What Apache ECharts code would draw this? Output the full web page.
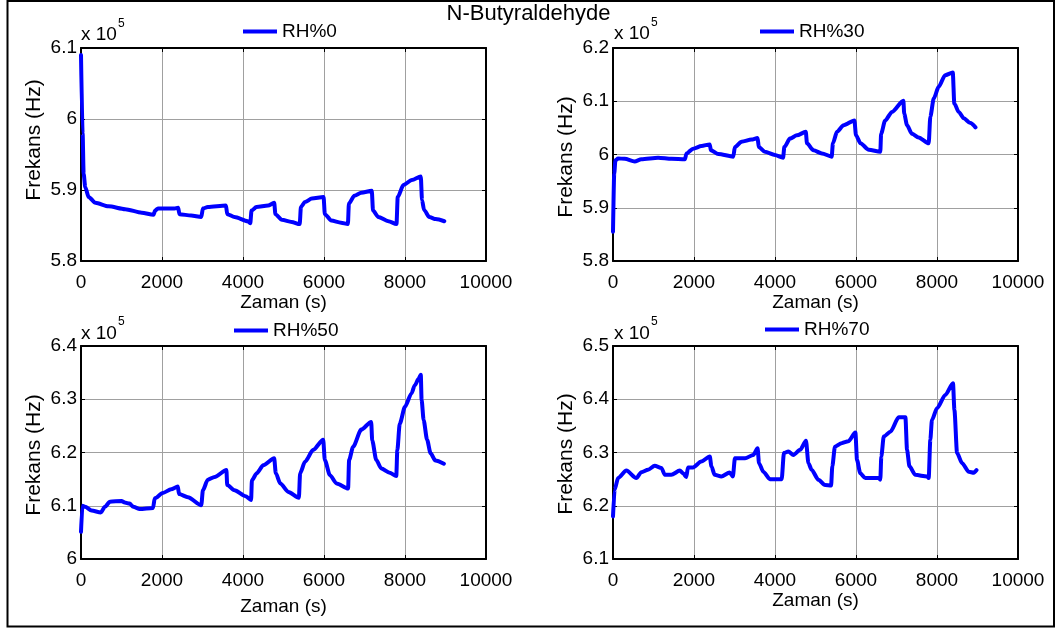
<!DOCTYPE html>
<html>
<head>
<meta charset="utf-8">
<script src="https://cdn.jsdelivr.net/npm/echarts@6/dist/echarts.min.js"></script>
<style>
  html, body { margin: 0; padding: 0; background: #ffffff; }
  #chart { width: 1057px; height: 632px; }
</style>
</head>
<body>
<div id="chart"></div>
<script>
// Time (s) and frequency (Hz) samples for each relative-humidity run
const rh0Time = [0, 40, 65, 105, 190, 355, 680, 1090, 1500, 1790, 1830, 1900, 2310, 2400, 2430, 2720, 2970, 3010, 3130, 3580, 3610, 3790, 4120, 4180, 4210, 4330, 4620, 4770, 4800, 4960, 5200, 5400, 5430, 5530, 5700, 5990, 6020, 6180, 6420, 6590, 6615, 6750, 6920, 7180, 7210, 7340, 7590, 7790, 7820, 7960, 8170, 8390, 8420, 8470, 8600, 8760, 8970];
const rh0Freq = [609000, 598000, 592300, 590400, 589000, 588200, 587700, 587300, 586800, 586500, 587100, 587400, 587400, 587500, 586600, 586400, 586200, 587400, 587600, 587800, 586600, 586200, 585600, 585300, 587100, 587600, 587800, 588200, 586600, 585800, 585500, 585200, 587600, 588300, 588800, 589000, 586600, 585700, 585400, 585200, 588100, 589200, 589600, 589900, 587100, 586200, 585600, 585200, 589000, 590700, 591400, 591900, 588600, 587200, 586200, 585900, 585600];

const rh30Time = [0, 30, 60, 125, 290, 535, 700, 1115, 1445, 1775, 1815, 1980, 2185, 2390, 2415, 2600, 2970, 3010, 3175, 3420, 3570, 3600, 3750, 4000, 4200, 4230, 4370, 4540, 4760, 4790, 4950, 5160, 5400, 5430, 5530, 5695, 5960, 6000, 6110, 6315, 6600, 6620, 6720, 6890, 7170, 7190, 7260, 7380, 7545, 7795, 7835, 7920, 8040, 8200, 8390, 8427, 8535, 8660, 8826, 8950];
const rh30Freq = [585500, 596400, 598900, 599250, 599200, 598700, 599100, 599400, 599200, 599100, 600200, 601100, 601600, 601900, 600800, 600100, 599600, 601400, 602400, 602800, 603100, 601400, 600500, 599900, 599400, 601400, 603000, 603600, 604250, 602100, 600800, 600200, 599600, 602100, 604250, 605500, 606400, 603600, 602100, 600900, 600500, 603900, 606400, 608000, 610100, 607700, 605500, 603900, 603200, 602100, 607100, 610500, 612700, 614900, 615400, 609600, 608000, 606800, 605900, 605100];

const rh50Time = [0, 35, 100, 260, 490, 590, 715, 1000, 1080, 1200, 1290, 1450, 1780, 1820, 2020, 2225, 2390, 2420, 2640, 2970, 3010, 3130, 3300, 3590, 3610, 3790, 4060, 4200, 4220, 4340, 4500, 4770, 4810, 4920, 5120, 5380, 5410, 5530, 5735, 5980, 6020, 6145, 6310, 6595, 6620, 6720, 6920, 7165, 7190, 7290, 7415, 7620, 7785, 7810, 7870, 8000, 8160, 8240, 8340, 8390, 8410, 8460, 8545, 8630, 8750, 8960];
const rh50Freq = [605100, 610000, 609800, 609100, 608750, 609800, 610750, 610900, 610600, 610400, 609800, 609400, 609600, 611400, 612400, 613100, 613600, 612200, 611600, 610100, 612900, 614900, 615400, 616700, 613900, 612900, 611800, 611100, 614800, 616100, 617600, 618900, 616100, 614200, 612600, 611500, 616100, 618250, 620500, 622400, 618600, 615750, 614200, 613250, 618600, 621100, 624300, 625750, 622300, 618600, 617000, 616200, 615600, 620400, 625400, 628600, 631100, 632600, 633900, 634600, 629900, 626100, 622400, 619900, 618500, 617900];

const rh70Time = [0, 40, 125, 330, 575, 700, 865, 1030, 1195, 1280, 1440, 1650, 1730, 1810, 1850, 1975, 2180, 2390, 2430, 2510, 2675, 2880, 2960, 3010, 3260, 3465, 3570, 3605, 3710, 3875, 4165, 4220, 4330, 4455, 4620, 4765, 4825, 4905, 5070, 5235, 5385, 5415, 5480, 5645, 5810, 5985, 6025, 6105, 6230, 6560, 6600, 6625, 6685, 6850, 7055, 7220, 7260, 7320, 7465, 7755, 7795, 7835, 7875, 8000, 8205, 8395, 8430, 8495, 8620, 8785, 8910, 8975];
const rh70Freq = [618000, 623000, 625200, 626600, 625200, 626300, 626750, 627500, 627100, 625800, 625800, 626600, 626100, 625400, 627200, 627200, 628300, 629250, 627400, 625800, 625500, 626250, 625500, 628900, 628900, 629550, 630800, 628000, 626400, 625000, 625000, 629900, 630200, 629550, 630500, 632200, 628000, 626750, 624900, 623900, 623800, 627400, 631100, 631750, 632100, 633750, 628600, 626100, 625200, 625200, 624900, 629250, 633000, 633900, 636600, 636600, 630500, 627400, 625800, 625500, 625200, 632400, 636100, 638300, 640800, 643000, 638000, 629900, 628000, 626400, 626200, 626700];

const seriesNames = ['RH%0', 'RH%30', 'RH%50', 'RH%70'];
const seriesTimes = [rh0Time, rh30Time, rh50Time, rh70Time];
const seriesFreqs = [rh0Freq, rh30Freq, rh50Freq, rh70Freq];

// Axis scales: time ticks and frequency ranges (Hz) of each panel
const timeAxis = { min: 0, max: 10000, interval: 2000 };
const freqMin = [580000, 580000, 600000, 610000];
const freqMax = [610000, 620000, 640000, 650000];
const freqStep = 10000;

const titleText = 'N-Butyraldehyde';
const xAxisTitle = 'Zaman (s)';
const yAxisTitle = 'Frekans (Hz)';

// Panel layout
const FONT = '"Liberation Sans", Arial, Helvetica, sans-serif';
const panels = [
  { grid: { left: 81, top: 48, width: 405, height: 213 }, legend: { left: 243, top: 22 }, exp: [81, 35.5], yName: [34, 140], xGap: 28 },
  { grid: { left: 613, top: 48, width: 405, height: 213 }, legend: { left: 760, top: 22 }, exp: [614, 34.5], yName: [566, 157], xGap: 28 },
  { grid: { left: 81, top: 346, width: 405, height: 213 }, legend: { left: 234, top: 321 }, exp: [81, 334], yName: [34, 455], xGap: 38 },
  { grid: { left: 613, top: 346, width: 405, height: 213 }, legend: { left: 765, top: 320 }, exp: [614, 334], yName: [566, 454], xGap: 32 }
];

const fmtFreq = v => String(+(v / 1e5).toFixed(1));
const fmtTime = v => String(v);
const frame = { show: true, onZero: false, lineStyle: { color: '#000', width: 2 } };
const tickIn = { show: true, inside: true, length: 4, lineStyle: { color: '#000', width: 1 } };
const gridLine = { show: true, lineStyle: { color: '#a0a0a0', width: 1 } };
const labelStyle = { color: '#000', fontSize: 19, fontFamily: FONT };

const grids = [], xAxes = [], yAxes = [], series = [], legends = [], graphics = [];

panels.forEach((p, i) => {
  grids.push(Object.assign({ containLabel: false }, p.grid));

  // bottom axis with ticks, labels and name
  xAxes.push({
    type: 'value', gridIndex: i, position: 'bottom',
    min: timeAxis.min, max: timeAxis.max, interval: timeAxis.interval,
    axisLine: frame, axisTick: tickIn, splitLine: gridLine,
    axisLabel: Object.assign({ margin: 12, formatter: fmtTime, showMinLabel: true, showMaxLabel: true }, labelStyle),
    name: xAxisTitle, nameLocation: 'middle', nameGap: p.xGap,
    nameTextStyle: labelStyle
  });
  // top edge of the box
  xAxes.push({
    type: 'value', gridIndex: i, position: 'top',
    min: timeAxis.min, max: timeAxis.max, interval: timeAxis.interval,
    axisLine: frame, axisTick: tickIn, splitLine: { show: false },
    axisLabel: { show: false }
  });

  // left axis with ticks and labels
  yAxes.push({
    type: 'value', gridIndex: i, position: 'left',
    min: freqMin[i], max: freqMax[i], interval: freqStep,
    axisLine: frame, axisTick: tickIn, splitLine: gridLine,
    axisLabel: Object.assign({ margin: 4, formatter: fmtFreq, showMinLabel: true, showMaxLabel: true }, labelStyle)
  });
  // right edge of the box
  yAxes.push({
    type: 'value', gridIndex: i, position: 'right',
    min: freqMin[i], max: freqMax[i], interval: freqStep,
    axisLine: frame, axisTick: tickIn, splitLine: { show: false },
    axisLabel: { show: false }
  });

  series.push({
    name: seriesNames[i], type: 'line',
    xAxisIndex: 2 * i, yAxisIndex: 2 * i,
    data: seriesTimes[i].map((t, k) => [t, seriesFreqs[i][k]]),
    showSymbol: false, symbol: 'none',
    smooth: 0.25, smoothMonotone: 'x',
    lineStyle: { color: '#0000ff', width: 4, join: 'round', cap: 'round' },
    itemStyle: { color: '#0000ff' },
    z: 3
  });

  legends.push({
    data: [seriesNames[i]], left: p.legend.left, top: p.legend.top,
    padding: 0, icon: 'rect', itemWidth: 34, itemHeight: 4,
    selectedMode: false,
    textStyle: { color: '#000', fontSize: 19, fontFamily: FONT, padding: [0, 0, 0, 0] }
  });

  // axis multiplier and rotated y title
  graphics.push({
    type: 'text', left: p.exp[0], top: p.exp[1] - 10,
    style: { text: 'x 10', fontSize: 19, fontFamily: FONT, fill: '#000' }
  });
  graphics.push({
    type: 'text', left: p.exp[0] + 37, top: p.exp[1] - 18,
    style: { text: '5', fontSize: 12, fontFamily: FONT, fill: '#000' }
  });
  graphics.push({
    type: 'text', x: p.yName[0], y: p.yName[1], rotation: Math.PI / 2,
    style: { text: yAxisTitle, fontSize: 21, fontFamily: FONT, fill: '#000', align: 'center', verticalAlign: 'middle' }
  });
});

// outer frame of the figure
graphics.push({
  type: 'rect', shape: { x: 7.5, y: 1, width: 1046.5, height: 625.5 },
  style: { fill: 'none', stroke: '#000', lineWidth: 2 }, z: 10
});

const chart = echarts.init(document.getElementById('chart'), null, { renderer: 'canvas' });
chart.setOption({
  animation: false,
  backgroundColor: '#ffffff',
  title: {
    text: titleText, left: 'center', top: 3, padding: 0,
    textStyle: { color: '#000', fontSize: 22, fontWeight: 'normal', fontFamily: FONT }
  },
  grid: grids,
  xAxis: xAxes,
  yAxis: yAxes,
  legend: legends,
  series: series,
  graphic: graphics
});
</script>
</body>
</html>
